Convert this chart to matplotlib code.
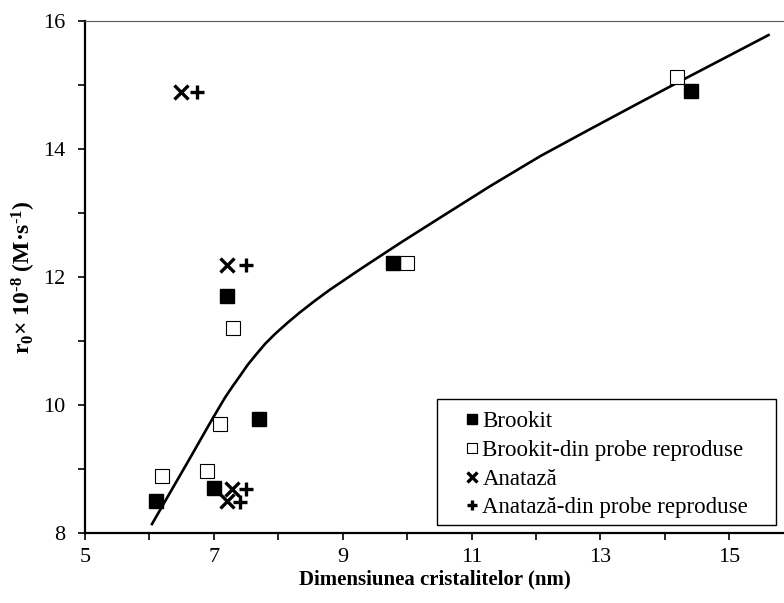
import matplotlib
matplotlib.use('Agg')
from matplotlib import pyplot as plt
from matplotlib.ticker import MultipleLocator, FuncFormatter
from matplotlib.patches import Rectangle

# Serif fonts to match the Times-like look
plt.rcParams['font.family'] = 'Liberation Serif'
plt.rcParams['mathtext.fontset'] = 'custom'
plt.rcParams['mathtext.rm'] = 'Liberation Serif'
plt.rcParams['mathtext.bf'] = 'Liberation Serif:bold'
plt.rcParams['mathtext.default'] = 'bf'

# Data
brookit_x = [6.10, 7.00, 7.20, 7.70, 9.78, 14.41]
brookit_y = [8.50, 8.70, 11.70, 9.78, 12.22, 14.90]

brookit_rep_x = [6.20, 6.89, 7.10, 7.30, 10.00, 14.19]
brookit_rep_y = [8.89, 8.97, 9.70, 11.20, 12.22, 15.12]

anataza_x = [6.49, 7.20, 7.28, 7.20]
anataza_y = [14.89, 12.19, 8.69, 8.50]

anataza_rep_x = [6.74, 7.50, 7.50, 7.40]
anataza_rep_y = [14.89, 12.19, 8.69, 8.49]

# trend curve, points
curve_x = [6.04, 6.32, 6.63, 6.97, 7.17, 7.29, 7.41, 7.52, 7.64, 7.80, 7.95,
           8.15, 8.34, 8.57, 8.80, 9.27, 9.89, 10.47, 11.29, 12.07, 12.84,
           13.62, 14.24, 14.83, 15.61]
curve_y = [8.14, 8.63, 9.17, 9.77, 10.11, 10.29, 10.46, 10.62, 10.77, 10.96, 11.11,
           11.29, 11.45, 11.63, 11.80, 12.12, 12.53, 12.90, 13.42, 13.89, 14.31,
           14.73, 15.06, 15.37, 15.78]

fig = plt.figure(figsize=(7.84, 6.03), dpi=100)
ax = fig.add_axes([0.1084, 0.1161, 0.8916, 0.8491])

ax.plot(curve_x, curve_y, color='black', lw=1.9, zorder=1)

ax.plot(brookit_x, brookit_y, 's', color='black', ms=10.5, label='Brookit', zorder=3)
ax.plot(brookit_rep_x, brookit_rep_y, 's', mfc='white', mec='black', mew=0.8, ms=10.5,
        label='Brookit-din probe reproduse', zorder=2)
ax.plot(anataza_x, anataza_y, 'x', color='black', ms=10, mew=2.4, label='Anatază', zorder=4)
ax.plot(anataza_rep_x, anataza_rep_y, '+', color='black', ms=10, mew=2.4,
        label='Anatază-din probe reproduse', zorder=4)

ax.set_xlim(5, 15.85)
ax.set_ylim(8, 16)

ax.xaxis.set_major_locator(MultipleLocator(1))
ax.yaxis.set_major_locator(MultipleLocator(1))
ax.xaxis.set_major_formatter(FuncFormatter(lambda v, p: '%d' % v if int(round(v)) % 2 == 1 else ''))
ax.yaxis.set_major_formatter(FuncFormatter(lambda v, p: '%d' % v if int(round(v)) % 2 == 0 else ''))
ax.tick_params(direction='out', length=5, width=1.2, labelsize=16)
ax.tick_params(axis='x', pad=6)
ax.tick_params(axis='y', pad=9)

ax.spines['right'].set_visible(False)
ax.spines['top'].set_color('#555555')
ax.spines['top'].set_linewidth(0.8)
ax.spines['left'].set_linewidth(1.6)
ax.spines['bottom'].set_linewidth(1.6)

ax.set_xlabel('Dimensiunea cristalitelor (nm)', fontsize=15, fontweight='bold')
ax.xaxis.set_label_coords(0.50, -0.071)
ax.set_ylabel('r$_0$× 10$^{\u20108}$ (M·s$^{\u20101}$)', fontsize=17, fontweight='bold')
ax.yaxis.set_label_coords(-0.067, 0.5)

# legend: frame drawn separately, like the Excel box
leg = ax.legend(loc='lower left', bbox_to_anchor=(0.540, 0.029), fontsize=16.5, frameon=False,
                handlelength=0.8, handletextpad=0.07, borderpad=0, borderaxespad=0,
                labelspacing=0.33, markerscale=0.75)
ax.add_patch(Rectangle((0.5036, 0.0156), 0.485, 0.246, transform=ax.transAxes,
                       fill=True, facecolor='white', edgecolor='black', lw=1.0, zorder=5))
leg.set_zorder(6)

plt.savefig('out.png', dpi=100)
